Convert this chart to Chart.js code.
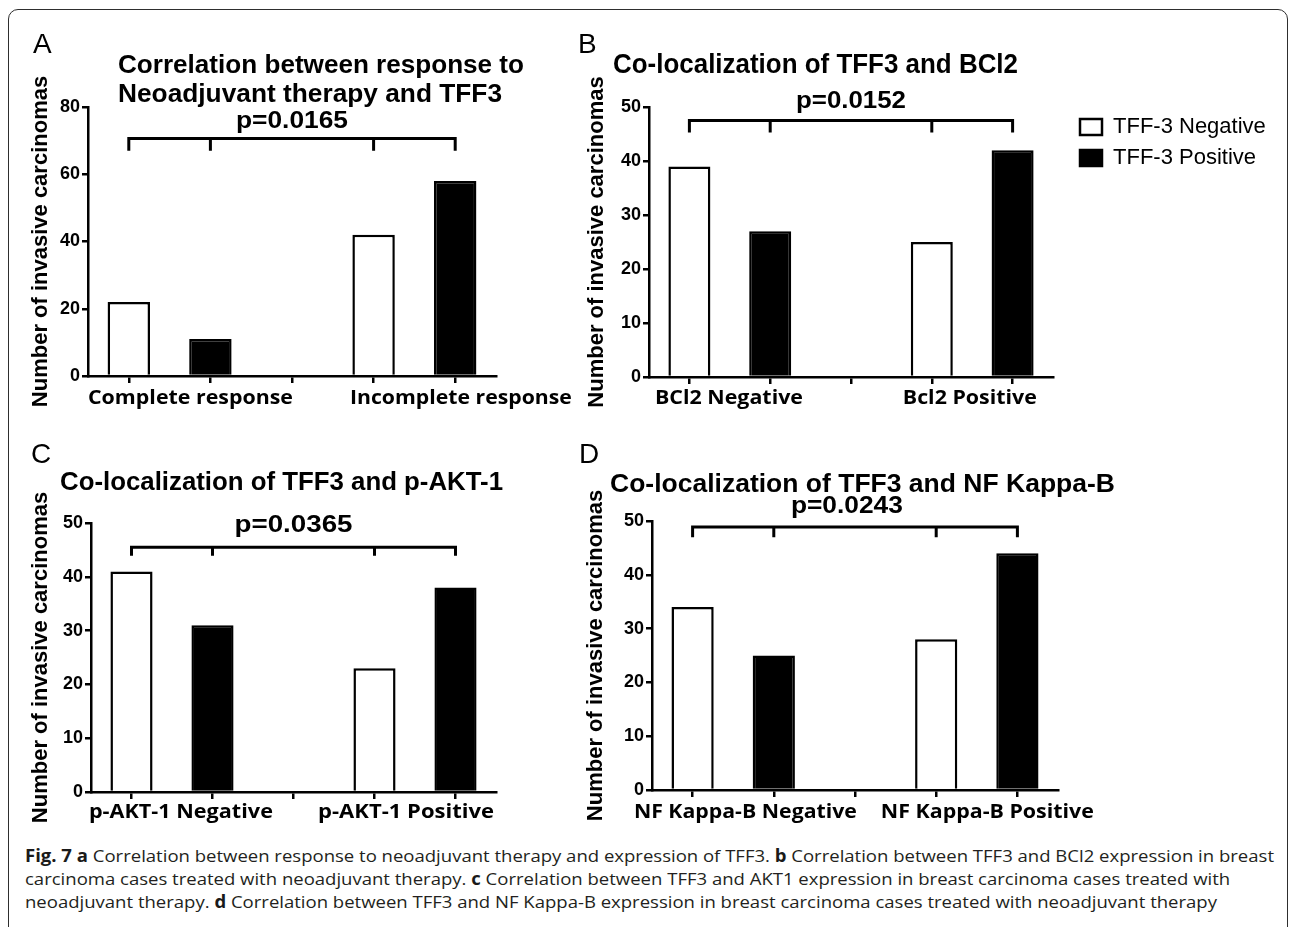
<!DOCTYPE html>
<html>
<head>
<meta charset="utf-8">
<script src="https://cdn.jsdelivr.net/npm/chart.js@4.4.1/dist/chart.umd.min.js"></script>
<style>
html,body{margin:0;padding:0;background:#fff;}
#wrap{position:relative;width:1290px;height:927px;overflow:hidden;background:#fff;}
#frame{position:absolute;left:8px;top:9px;width:1280px;height:1000px;border:1.5px solid #2e2e2e;border-radius:10px;box-sizing:border-box;}
canvas{position:absolute;}
#caption{position:absolute;left:25px;top:844px;font-family:"Open Sans","Liberation Sans",sans-serif;font-size:17px;line-height:23px;color:#231f20;}
#caption .ln{display:block;height:23px;}
#caption .ln span.t{display:inline-block;white-space:nowrap;transform-origin:0 0;}
#caption b{font-weight:700;color:#1a1a1a;}
</style>
</head>
<body>
<div id="wrap">
  <div id="frame"></div>
  <canvas id="cA" width="580" height="420" style="left:0px;top:0px;width:580px;height:420px"></canvas>
  <canvas id="cB" width="710" height="420" style="left:580px;top:0px;width:710px;height:420px"></canvas>
  <canvas id="cC" width="580" height="410" style="left:0px;top:420px;width:580px;height:410px"></canvas>
  <canvas id="cD" width="710" height="410" style="left:580px;top:420px;width:710px;height:410px"></canvas>
  <div id="caption">
    <div class="ln"><span class="t"><b>Fig. 7</b> <b>a</b> Correlation between response to neoadjuvant therapy and expression of TFF3. <b>b</b> Correlation between TFF3 and BCl2 expression in breast</span></div>
    <div class="ln"><span class="t">carcinoma cases treated with neoadjuvant therapy. <b>c</b> Correlation between TFF3 and AKT1 expression in breast carcinoma cases treated with</span></div>
    <div class="ln"><span class="t">neoadjuvant therapy. <b>d</b> Correlation between TFF3 and NF Kappa-B expression in breast carcinoma cases treated with neoadjuvant therapy</span></div>
  </div>
</div>
<script>
// ---------------- DATA ----------------
const seriesNames = ['TFF-3 Negative', 'TFF-3 Positive'];
const yAxisTitle = 'Number of invasive carcinomas';

const categoriesA = ['Complete response', 'Incomplete response'];
const negativeA = [22, 42];
const positiveA = [11, 58];
const yTicksA = [0, 20, 40, 60, 80];
const titleA = ['Correlation between response to', 'Neoadjuvant therapy and TFF3'];
const pValueA = 'p=0.0165';

const categoriesB = ['BCl2 Negative', 'Bcl2 Positive'];
const negativeB = [39, 25];
const positiveB = [27, 42];
const yTicksB = [0, 10, 20, 30, 40, 50];
const titleB = ['Co-localization of TFF3 and BCl2'];
const pValueB = 'p=0.0152';

const categoriesC = ['p-AKT-1 Negative', 'p-AKT-1 Positive'];
const negativeC = [41, 23];
const positiveC = [31, 38];
const yTicksC = [0, 10, 20, 30, 40, 50];
const titleC = ['Co-localization of TFF3 and p-AKT-1'];
const pValueC = 'p=0.0365';

const categoriesD = ['NF Kappa-B Negative', 'NF Kappa-B Positive'];
const negativeD = [34, 28];
const positiveD = [25, 44];
const yTicksD = [0, 10, 20, 30, 40, 50];
const titleD = ['Co-localization of TFF3 and NF Kappa-B'];
const pValueD = 'p=0.0243';

// ---------------- LAYOUT / STYLE ----------------
const ARIAL = '"Liberation Sans", Arial, Helvetica, sans-serif';
const CAL = '"Open Sans", "Liberation Sans", sans-serif';
Chart.defaults.font.family = ARIAL;
Chart.defaults.color = '#000';

const panels = [
  { id: 'cA', letter: 'A', cats: categoriesA, neg: negativeA, pos: positiveA, ticks: yTicksA, title: titleA, p: pValueA,
    canvas: [0, 0, 580, 420], area: { l: 88, r: 496, t: 107, b: 376 }, yTitleX: 40.5,
    letterPos: [33, 53], titleCap: 18, titlePos: [{ x: 118, y: 73, w: 406 }, { x: 118, y: 102, w: 384 }],
    pY: 128, pW: 112, pAt: 2, bracket: [70.6, 67], groupY: 404, groups: [{ at: 0.756, w: 205 }, { at: 4.07, w: 222 }], legend: false },
  { id: 'cB', letter: 'B', cats: categoriesB, neg: negativeB, pos: positiveB, ticks: yTicksB, title: titleB, p: pValueB,
    canvas: [580, 0, 710, 420], area: { l: 649, r: 1053, t: 107, b: 377 }, yTitleX: 596.5,
    letterPos: [578, 53], titleCap: 20, titlePos: [{ x: 613, y: 73, w: 405 }],
    pY: 108, pW: 110, pAt: 2, bracket: [47.5, 45.3], groupY: 404, groups: [{ at: 0.49, w: 148 }, { at: 3.47, w: 134 }], legend: true },
  { id: 'cC', letter: 'C', cats: categoriesC, neg: negativeC, pos: positiveC, ticks: yTicksC, title: titleC, p: pValueC,
    canvas: [0, 420, 580, 410], area: { l: 91, r: 496, t: 523, b: 792 }, yTitleX: 40.5,
    letterPos: [31, 463], titleCap: 18, titlePos: [{ x: 60, y: 490, w: 443 }],
    pY: 532, pW: 118, pAt: 2, bracket: [45.5, 43.9], groupY: 818, groups: [{ at: 0.61, w: 184 }, { at: 3.39, w: 176 }], legend: false },
  { id: 'cD', letter: 'D', cats: categoriesD, neg: negativeD, pos: positiveD, ticks: yTicksD, title: titleD, p: pValueD,
    canvas: [580, 420, 710, 410], area: { l: 652, r: 1058, t: 521, b: 790 }, yTitleX: 596,
    letterPos: [579, 463], titleCap: 19, titlePos: [{ x: 610, y: 492, w: 505 }],
    pY: 513, pW: 112, pAt: 1.9, bracket: [48.9, 47.0], groupY: 818, groups: [{ at: 0.65, w: 223 }, { at: 3.63, w: 213 }], legend: false }
];

const LEGEND_BOX_X = 1080;   // page x of legend boxes
const LEGEND_PAD = 9;

function drawFitted(ctx, text, x, y, o) {
  const size = o.cap / o.capRatio;
  ctx.save();
  ctx.font = `${o.weight} ${size}px ${o.family}`;
  const nat = ctx.measureText(text).width;
  const sx = o.w ? o.w / nat : 1;
  ctx.translate(x, y);
  ctx.scale(sx, 1);
  ctx.textAlign = o.align || 'left';
  ctx.textBaseline = 'alphabetic';
  ctx.fillStyle = '#000';
  ctx.fillText(text, 0, 0);
  ctx.restore();
}

function decorPlugin(P) {
  return {
    id: 'decor',
    afterDraw(chart) {
      const ctx = chart.ctx, xs = chart.scales.x, ys = chart.scales.y;
      const ox = P.canvas[0], oy = P.canvas[1];
      drawFitted(ctx, P.letter, P.letterPos[0] - ox, P.letterPos[1] - oy, { cap: 20, capRatio: 0.716, weight: 'normal', family: ARIAL });
      P.title.forEach((line, i) => {
        const t = P.titlePos[i];
        drawFitted(ctx, line, t.x - ox, t.y - oy, { cap: P.titleCap, capRatio: 0.716, weight: 'bold', family: ARIAL, w: t.w });
      });
      drawFitted(ctx, P.p, xs.getPixelForValue(P.pAt), P.pY - oy, { cap: 17, capRatio: 0.716, weight: 'bold', family: ARIAL, w: P.pW, align: 'center' });
      const lv = ys.getPixelForValue(P.bracket[0]);
      const dv = ys.getPixelForValue(P.bracket[1]);
      const bx = [0, 1, 3, 4].map(i => xs.getPixelForValue(i));
      ctx.save();
      ctx.strokeStyle = '#000';
      ctx.lineWidth = 3;
      ctx.lineJoin = 'miter';
      ctx.lineCap = 'butt';
      ctx.beginPath();
      ctx.moveTo(bx[0], dv); ctx.lineTo(bx[0], lv); ctx.lineTo(bx[3], lv); ctx.lineTo(bx[3], dv);
      ctx.moveTo(bx[1], lv); ctx.lineTo(bx[1], dv);
      ctx.moveTo(bx[2], lv); ctx.lineTo(bx[2], dv);
      ctx.stroke();
      ctx.restore();
      P.groups.forEach((g, i) => {
        drawFitted(ctx, P.cats[i], xs.getPixelForValue(g.at), P.groupY - oy, { cap: 14.5, capRatio: 0.714, weight: 'bold', family: CAL, w: g.w, align: 'center' });
      });
    }
  };
}

function measureLegendWidth() {
  const c = document.createElement('canvas').getContext('2d');
  c.font = `22px ${ARIAL}`;
  const tw = Math.max(...seriesNames.map(s => c.measureText(s).width));
  return LEGEND_PAD + 22 + 11 + tw + 10;
}

panels.forEach(P => {
  const [cx, cy, cw, ch] = P.canvas;
  const labels = [P.cats[0], P.cats[0] + ' ', '', P.cats[1], P.cats[1] + ' '];
  const negSlots = [P.neg[0], null, null, P.neg[1], null];
  const posSlots = [null, P.pos[0], null, null, P.pos[1]];
  const yMax = P.ticks[P.ticks.length - 1];
  const step = P.ticks[1] - P.ticks[0];
  const areaL = P.area.l - cx, areaR = P.area.r - cx, areaT = P.area.t - cy, areaB = P.area.b - cy;
  const legendLeft = LEGEND_BOX_X - cx - LEGEND_PAD;
  const gapW = P.legend ? legendLeft - areaR : 0;
  const padRight = P.legend ? (cw - legendLeft - measureLegendWidth()) : (cw - areaR);

  const scales = {
    x: {
      type: 'category', offset: true,
      grid: { display: true, offset: false, drawOnChartArea: false, drawTicks: true, tickLength: 7, color: '#000', lineWidth: 2.5 },
      border: { display: true, color: '#000', width: 2.5 },
      ticks: { display: false },
      afterFit: s => { s.height = ch - areaB; }
    },
    y: {
      type: 'linear', min: 0, max: yMax,
      grid: { display: true, drawOnChartArea: false, drawTicks: true, tickLength: 6, color: '#000', lineWidth: 2.5 },
      border: { display: true, color: '#000', width: 2.5 },
      ticks: { stepSize: step, padding: 2, color: '#000', font: { size: 18, weight: 'bold', family: ARIAL } },
      title: { display: true, text: yAxisTitle, color: '#000', font: { size: 22, weight: 'bold', family: ARIAL, lineHeight: 1.2 },
               padding: { top: P.yTitleX - cx - 13.2, bottom: 0 } },
      afterFit: s => { s.width = areaL; }
    }
  };
  if (P.legend) {
    scales.gap = {
      type: 'linear', position: 'right', display: true,
      grid: { display: false }, border: { display: false }, ticks: { display: false },
      afterFit: s => { s.width = gapW; }
    };
  }

  const chart = new Chart(document.getElementById(P.id), {
    type: 'bar',
    data: {
      labels: labels,
      datasets: [
        { label: seriesNames[0], data: negSlots, backgroundColor: '#ffffff', borderColor: '#000000', borderWidth: 2.5,
          grouped: false, barPercentage: 0.52, categoryPercentage: 1 },
        { label: seriesNames[1], data: posSlots, backgroundColor: '#000000', borderColor: '#000000', borderWidth: 2.5,
          grouped: false, barPercentage: 0.52, categoryPercentage: 1 }
      ]
    },
    options: {
      responsive: false,
      animation: false,
      events: [],
      layout: { padding: { left: 0, top: areaT, right: padRight, bottom: 0 } },
      scales: scales,
      plugins: {
        legend: {
          display: P.legend, position: 'right', align: 'start', maxWidth: 400,
          labels: { boxWidth: 22, boxHeight: 16, padding: LEGEND_PAD, color: '#000', font: { family: ARIAL, size: 22 } }
        },
        title: { display: false },
        tooltip: { enabled: false }
      }
    },
    plugins: [decorPlugin(P)]
  });

  if (P.legend && chart.legend) {
    for (let k = 0; k < 3; k++) {
      const diff = chart.legend.left - legendLeft;
      if (Math.abs(diff) <= 0.3) break;
      chart.options.layout.padding.right = chart.options.layout.padding.right + diff;
      chart.update();
    }
  }
});

// caption: condense lines uniformly to the reference line width
(function () {
  const spans = document.querySelectorAll('#caption .ln span.t');
  const w = spans[0].getBoundingClientRect().width;
  const s = 1249 / w;
  spans.forEach(sp => { sp.style.transform = `scaleX(${s})`; });
})();
</script>
</body>
</html>
